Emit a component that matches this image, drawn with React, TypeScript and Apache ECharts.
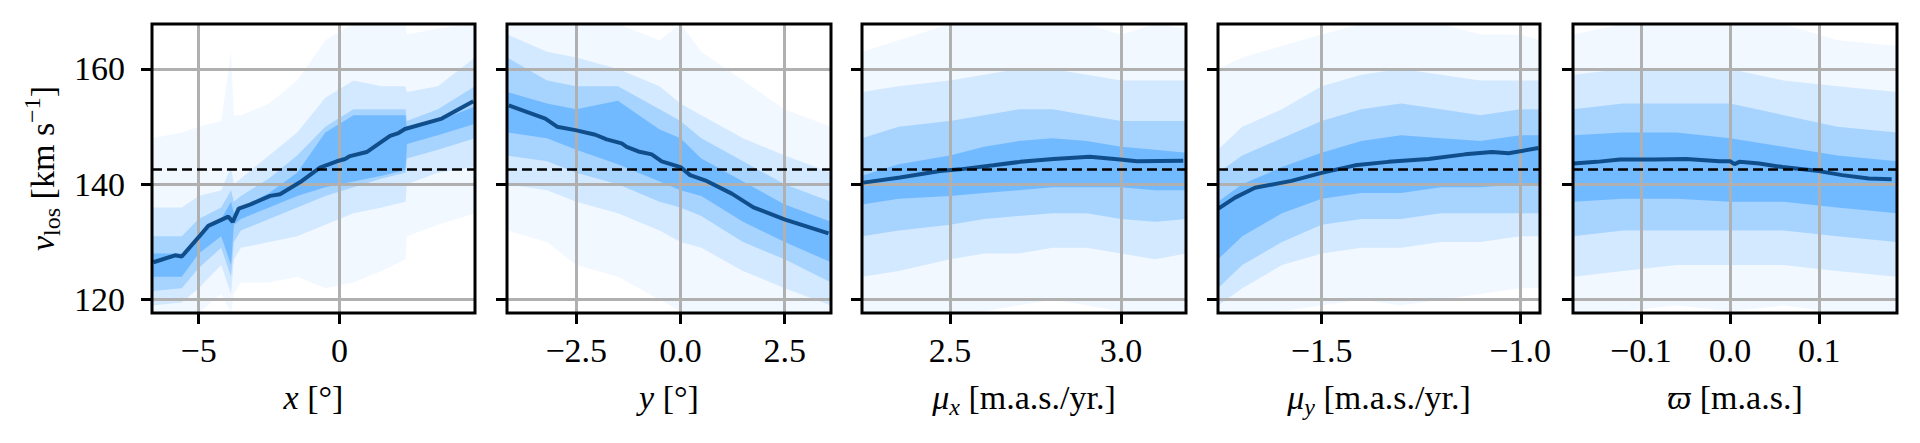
import React, { useEffect, useRef } from "react";
import * as echarts from "echarts";

// ---------- shared y axis ----------
const yRange = [117.7, 167.8];
const yTicks = [120, 140, 160];
const refLevel = 142.7;

// ---------- panel 1 : x ----------
const xRange1 = [-6.66, 4.82];
const xTicks1 = [-5, 0];
const lineX1 = [-6.61, -5.84, -5.6, -5.01, -4.66, -3.95, -3.79, -3.58, -3.18, -2.46, -2.11, -1.39, -0.69, -0.09, 0.2, 0.38, 0.97, 1.8, 2.1, 2.33, 3.64, 4.76];
const lineY1 = [126.5, 127.7, 127.5, 130.8, 132.8, 134.4, 133.5, 135.8, 136.5, 138.0, 138.3, 140.4, 142.9, 144.0, 144.4, 144.9, 145.6, 148.4, 148.9, 149.6, 151.4, 154.4];
const bandX1 = [-6.66, -5.6, -5.0, -4.2, -3.85, -3.75, -3.5, -2.5, -1.5, -0.5, 0.5, 1.5, 2.35, 2.4, 3.5, 4.82];
const outerLo1 = [117.7, 117.7, 117.7, 121, 117.7, 121, 123, 123, 124, 122, 123, 125, 127, 131, 133, 135];
const outerHi1 = [148, 149, 150, 151, 163, 152, 152, 154, 158, 165, 167.8, 167.8, 167.8, 166, 167, 167.8];
const midLo1 = [119, 119.5, 122, 126, 121, 127, 129, 130, 131, 133, 135, 136, 137, 140, 142, 143];
const midHi1 = [136, 136, 138, 139, 143, 140, 141, 145, 149, 155, 158, 157, 157, 156, 157, 162];
const innerLo1 = [121.5, 122, 125.5, 129, 124, 130, 132, 134, 136, 138, 139.5, 141, 142, 144.5, 146, 148];
const innerHi1 = [131, 131, 134, 136, 139, 137, 138, 141, 145, 150, 153, 153, 153, 151, 153, 157];
const coreLo1 = [124, 124, 128, 131, 126, 133, 134, 136, 138, 139.5, 140.5, 141.5, 142.5, 147, 148.5, 150.5];
const coreHi1 = [128, 128, 131, 134, 137, 135, 136, 138.5, 142, 149, 152, 152, 152, 149.5, 151, 153.5];

// ---------- panel 2 : y ----------
const xRange2 = [-4.16, 3.61];
const xTicks2 = [-2.5, 0, 2.5];
const lineX2 = [-4.12, -3.24, -2.96, -2.52, -2.04, -1.77, -1.41, -1.29, -1.01, -0.69, -0.45, 0.0, 0.23, 0.59, 1.23, 1.75, 2.51, 3.55];
const lineY2 = [153.7, 151.4, 150.0, 149.4, 148.6, 147.8, 147.1, 146.5, 145.7, 145.2, 144.0, 143.0, 141.6, 140.7, 138.4, 136.0, 133.9, 131.5];
const bandX2 = [-4.16, -3.2, -2.5, -1.5, -0.5, 0, 0.5, 1.5, 2.5, 3.61];
const outerLo2 = [132, 130, 126, 124, 120, 118, 117.7, 117.7, 117.7, 117.7];
const outerHi2 = [167.8, 167.8, 167.8, 167.8, 165, 167.8, 163, 158, 153, 150];
const midLo2 = [140, 139, 137, 135, 132, 130, 129, 125, 122, 119];
const midHi2 = [166, 163, 162, 160, 157, 154, 152, 148, 145, 142];
const innerLo2 = [145, 144, 142, 140, 137, 136, 134.5, 130, 127, 123];
const innerHi2 = [162, 158, 157, 157, 153, 151, 148, 144, 140, 137];
const coreLo2 = [149, 148, 146, 143.5, 140.5, 139, 138, 133.5, 130, 126.5];
const coreHi2 = [156, 154, 153, 154.5, 149.5, 148, 144.5, 140.5, 136.5, 133.5];

// ---------- panel 3 : mu_x ----------
const xRange3 = [2.243, 3.19];
const xTicks3 = [2.5, 3.0];
const lineX3 = [2.247, 2.354, 2.471, 2.529, 2.627, 2.705, 2.802, 2.909, 2.997, 3.046, 3.182];
const lineY3 = [140.3, 141.2, 142.3, 142.6, 143.3, 143.9, 144.4, 144.8, 144.3, 144.0, 144.1];
const bandX3 = [2.243, 2.35, 2.5, 2.6, 2.7, 2.8, 2.9, 3.0, 3.1, 3.19];
const outerLo3 = [117.7, 117.7, 117.7, 118, 119, 120, 119, 118, 117.7, 118];
const outerHi3 = [163, 165, 167.8, 167.8, 167.8, 167.8, 167.8, 166, 167.8, 167];
const midLo3 = [124, 125, 127, 128, 128, 129, 129, 128, 127, 128];
const midHi3 = [156, 157, 158, 159, 160, 160, 159, 158, 158, 158];
const innerLo3 = [131, 132, 133, 134, 134.5, 135, 135, 134, 133.5, 134];
const innerHi3 = [148, 150, 151, 152, 153, 153, 152, 151, 151, 151];
const coreLo3 = [136.5, 137.5, 138, 138.5, 139, 139.5, 139.5, 139.5, 139, 139];
const coreHi3 = [141.5, 143.5, 145, 146.5, 147.5, 148, 147.5, 146.5, 146, 145.5];

// ---------- panel 4 : mu_y ----------
const xRange4 = [-1.761, -0.95];
const xTicks4 = [-1.5, -1.0];
const lineX4 = [-1.76, -1.718, -1.668, -1.576, -1.5, -1.416, -1.332, -1.231, -1.139, -1.071, -1.029, -0.954];
const lineY4 = [135.8, 137.7, 139.4, 140.6, 142.0, 143.3, 143.9, 144.4, 145.2, 145.6, 145.4, 146.3];
const bandX4 = [-1.761, -1.7, -1.6, -1.5, -1.4, -1.3, -1.2, -1.1, -1.0, -0.95];
const outerLo4 = [117.7, 117.7, 118, 119, 120, 119, 120, 121, 122, 122];
const outerHi4 = [160, 162, 164, 166, 167.8, 167.8, 167.8, 166, 166, 165];
const midLo4 = [119, 122, 126, 128, 129, 129, 130, 130, 131, 131];
const midHi4 = [146, 150, 153, 157, 159, 160, 159, 158, 158, 158];
const innerLo4 = [122, 126, 130, 133, 134, 134, 135, 135, 135, 135];
const innerHi4 = [142, 145, 148, 151, 153, 154, 153, 152, 153, 153];
const coreLo4 = [127, 131, 135, 137.5, 138.5, 138.5, 139.5, 139.5, 140, 140];
const coreHi4 = [137, 140, 143, 145.5, 147.5, 148.5, 148, 147.5, 148.5, 148.5];

// ---------- panel 5 : parallax ----------
const xRange5 = [-0.176, 0.187];
const xTicks5 = [-0.1, 0.0, 0.1];
const lineX5 = [-0.1755, -0.1494, -0.1234, -0.0862, -0.0491, -0.0119, 0.0, 0.005, 0.0104, 0.0327, 0.0587, 0.0996, 0.1257, 0.1554, 0.181];
const lineY5 = [143.6, 143.9, 144.3, 144.3, 144.4, 144.0, 144.0, 143.5, 143.9, 143.6, 143.0, 142.3, 141.6, 141.0, 140.9];
const bandX5 = [-0.176, -0.12, -0.06, 0.0, 0.06, 0.12, 0.187];
const outerLo5 = [117.7, 118, 119, 118, 119, 117.7, 117.7];
const outerHi5 = [166, 167.8, 167.8, 167.8, 167.8, 165, 164];
const midLo5 = [124, 125, 126, 126, 126, 125, 124];
const midHi5 = [159, 160, 160, 160, 158, 157, 156];
const innerLo5 = [131, 132, 132, 132, 132, 131, 130];
const innerHi5 = [153, 154, 154, 154, 152, 150, 149];
const coreLo5 = [137, 137.5, 137.5, 137, 137, 136, 135];
const coreHi5 = [148.5, 149, 149, 148, 146.5, 145, 144];

const xNames = [
  "{i|x} [°]",
  "{i|y} [°]",
  "{i|μ}{isub|x} [m.a.s./yr.]",
  "{i|μ}{isub|y} [m.a.s./yr.]",
  "{i|ϖ} [m.a.s.]",
];
const yName = "{i|v}{sub|los} [km s{sup|−1}]";
const tickDecimals = [0, 1, 1, 1, 1];

const panels = [
  { xr: xRange1, xt: xTicks1, lx: lineX1, ly: lineY1, bx: bandX1, bands: [[outerLo1, outerHi1], [midLo1, midHi1], [innerLo1, innerHi1], [coreLo1, coreHi1]] },
  { xr: xRange2, xt: xTicks2, lx: lineX2, ly: lineY2, bx: bandX2, bands: [[outerLo2, outerHi2], [midLo2, midHi2], [innerLo2, innerHi2], [coreLo2, coreHi2]] },
  { xr: xRange3, xt: xTicks3, lx: lineX3, ly: lineY3, bx: bandX3, bands: [[outerLo3, outerHi3], [midLo3, midHi3], [innerLo3, innerHi3], [coreLo3, coreHi3]] },
  { xr: xRange4, xt: xTicks4, lx: lineX4, ly: lineY4, bx: bandX4, bands: [[outerLo4, outerHi4], [midLo4, midHi4], [innerLo4, innerHi4], [coreLo4, coreHi4]] },
  { xr: xRange5, xt: xTicks5, lx: lineX5, ly: lineY5, bx: bandX5, bands: [[outerLo5, outerHi5], [midLo5, midHi5], [innerLo5, innerHi5], [coreLo5, coreHi5]] },
];

// layout (pixels)
const gridLefts = [152, 507, 862, 1218, 1573];
const gridWidths = [323, 324, 324, 322, 324];
const gridTop = 24;
const gridHeight = 289;
const bandAlphas = [0.06, 0.14, 0.24, 0.38];

const FONT = "Liberation Serif";
const FS = 34;
const richMain = {
  i: { fontStyle: "italic", fontSize: FS, lineHeight: 44, fontFamily: FONT, color: "#000" },
  isub: { fontStyle: "italic", fontSize: 24, lineHeight: 26, verticalAlign: "bottom", fontFamily: FONT, color: "#000" },
  sub: { fontSize: 24, lineHeight: 26, verticalAlign: "bottom", fontFamily: FONT, color: "#000" },
  sup: { fontSize: 24, lineHeight: 22, verticalAlign: "top", fontFamily: FONT, color: "#000" },
};

function fmt(v: number, d: number) {
  const s = Math.abs(v) < 1e-9 ? (0).toFixed(d) : v.toFixed(d);
  return s.replace("-", "−");
}

function buildOption() {
  const grid = panels.map((_, i) => ({
    left: gridLefts[i],
    top: gridTop,
    width: gridWidths[i],
    height: gridHeight,
    show: true,
    borderColor: "#000",
    borderWidth: 3,
    backgroundColor: "rgba(0,0,0,0)",
    z: 5,
  }));
  const xAxis = panels.map((p, i) => ({
    type: "value",
    gridIndex: i,
    min: p.xr[0],
    max: p.xr[1],
    name: xNames[i],
    nameLocation: "middle",
    nameGap: 62,
    nameTextStyle: { fontSize: FS, lineHeight: 44, fontFamily: FONT, color: "#000", rich: richMain },
    axisLine: { show: false, onZero: false },
    axisTick: { show: true, inside: false, length: 11, lineStyle: { color: "#000", width: 3 }, customValues: p.xt },
    axisLabel: {
      show: true,
      customValues: p.xt,
      margin: 20,
      fontSize: FS,
      lineHeight: FS,
      fontFamily: FONT,
      color: "#000",
      formatter: (v: number) => fmt(v, tickDecimals[i]),
    },
    splitLine: { show: true, lineStyle: { color: "#b0b0b0", width: 3 } },
    z: 1,
  }));
  const yAxis = panels.map((_, i) => ({
    type: "value",
    gridIndex: i,
    min: yRange[0],
    max: yRange[1],
    name: i === 0 ? yName : "",
    nameLocation: "middle",
    nameRotate: 90,
    nameGap: 88,
    nameTextStyle: { fontSize: FS, lineHeight: 44, fontFamily: FONT, color: "#000", rich: richMain },
    axisLine: { show: false, onZero: false },
    axisTick: { show: true, inside: false, length: 11, lineStyle: { color: "#000", width: 3 }, customValues: yTicks },
    axisLabel: {
      show: i === 0,
      customValues: yTicks,
      margin: 27,
      fontSize: FS,
      fontFamily: FONT,
      color: "#000",
      formatter: (v: number) => fmt(v, 0),
    },
    splitLine: { show: true, lineStyle: { color: "#b0b0b0", width: 3 } },
    z: 1,
  }));
  const series: any[] = [];
  panels.forEach((p, i) => {
    p.bands.forEach((b, k) => {
      const lo = b[0];
      const hi = b[1];
      series.push({
        type: "custom",
        xAxisIndex: i,
        yAxisIndex: i,
        silent: true,
        clip: true,
        z: 0,
        data: [[p.bx[0], lo[0]]],
        renderItem: (_params: any, api: any) => {
          const top = p.bx.map((x, j) => api.coord([x, hi[j]]));
          const bot = p.bx.map((x, j) => api.coord([x, lo[j]])).reverse();
          return {
            type: "polygon",
            shape: { points: top.concat(bot) },
            style: { fill: `rgba(30,144,255,${bandAlphas[k]})`, stroke: "none" },
          };
        },
      });
    });
    series.push({
      type: "line",
      xAxisIndex: i,
      yAxisIndex: i,
      data: p.lx.map((x, j) => [x, p.ly[j]]),
      symbol: "none",
      showSymbol: false,
      silent: true,
      z: 4,
      lineStyle: { color: "#104E8B", width: 4 },
      markLine: {
        silent: true,
        symbol: ["none", "none"],
        label: { show: false },
        lineStyle: { color: "#000", type: [10, 5], width: 2.6 },
        data: [{ yAxis: refLevel }],
      },
    });
  });
  return {
    animation: false,
    backgroundColor: "#fff",
    textStyle: { fontFamily: FONT },
    grid,
    xAxis,
    yAxis,
    series,
  };
}

export default function App() {
  const ref = useRef<HTMLDivElement>(null);
  useEffect(() => {
    document.body.style.margin = "0";
    if (!ref.current) return;
    const chart = echarts.init(ref.current, null, { renderer: "svg" });
    chart.setOption(buildOption() as any);
    return () => chart.dispose();
  }, []);
  return <div ref={ref} style={{ width: 1920, height: 443 }} />;
}
